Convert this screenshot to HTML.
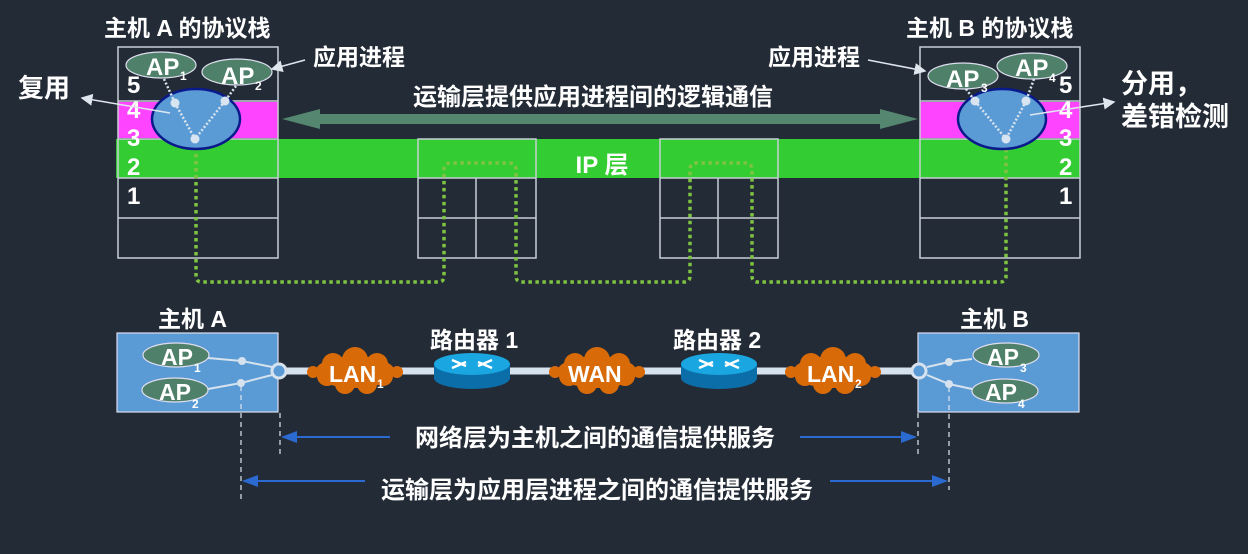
<!DOCTYPE html>
<html><head><meta charset="utf-8"><style>
html,body{margin:0;padding:0;background:#232b36;}
svg{display:block;}
text{font-family:"Liberation Sans","Noto Sans CJK SC",sans-serif;fill:#fff;font-weight:bold;}
</style></head><body>
<svg width="1248" height="554" viewBox="0 0 1248 554" xmlns="http://www.w3.org/2000/svg">
<defs>
<marker id="wa" markerWidth="8" markerHeight="8" refX="7" refY="4" orient="auto"><path d="M0,0 L8,4 L0,8 z" fill="#dfe6ee"/></marker>
<marker id="ba" markerWidth="8" markerHeight="8" refX="7" refY="4" orient="auto-start-reverse"><path d="M0,1 L8,4 L0,7 z" fill="#2b6ad0"/></marker>
</defs>
<rect x="116" y="139" width="964" height="39" fill="#33cc33"/>
<rect x="118" y="102" width="160" height="36" fill="#ff44ff"/>
<rect x="920" y="102" width="160" height="36" fill="#ff44ff"/>
<g fill="none" stroke="#c8ced6" stroke-width="1.5">
<rect x="118" y="47" width="160" height="211"/>
<line x1="118" y1="101" x2="278" y2="101"/><line x1="118" y1="139" x2="278" y2="139"/>
<line x1="118" y1="178" x2="278" y2="178"/><line x1="118" y1="218" x2="278" y2="218"/>
<rect x="920" y="47" width="160" height="211"/>
<line x1="920" y1="101" x2="1080" y2="101"/><line x1="920" y1="139" x2="1080" y2="139"/>
<line x1="920" y1="178" x2="1080" y2="178"/><line x1="920" y1="218" x2="1080" y2="218"/>
<rect x="418" y="139" width="118" height="119"/>
<line x1="418" y1="178" x2="536" y2="178"/><line x1="418" y1="218" x2="536" y2="218"/><line x1="476" y1="178" x2="476" y2="258"/>
<rect x="660" y="139" width="118" height="119"/>
<line x1="660" y1="178" x2="778" y2="178"/><line x1="660" y1="218" x2="778" y2="218"/><line x1="718" y1="178" x2="718" y2="258"/>
</g>
<path d="M282,119 L320,109 L320,114 L880,114 L880,109 L918,119 L880,129 L880,124 L320,124 L320,129 Z" fill="#548670"/>
<text x="593" y="105" font-size="24" text-anchor="middle">运输层提供应用进程间的逻辑通信</text>
<text x="602" y="173" font-size="24" text-anchor="middle">IP 层</text>
<path d="M196,140 L196,276 Q196,282 202,282 L438,282 Q444,282 444,276 L444,170 Q444,163 451,163 L509,163 Q516,163 516,170 L516,276 Q516,282 522,282 L684,282 Q690,282 690,276 L690,170 Q690,163 697,163 L745,163 Q752,163 752,170 L752,276 Q752,282 758,282 L1000,282 Q1006,282 1006,276 L1006,140" fill="none" stroke="#7fc342" stroke-width="3.5" stroke-dasharray="3.5,3.5"/>
<ellipse cx="196" cy="119" rx="44" ry="30" fill="#5b9bd5" stroke="#0a1a8a" stroke-width="2.5"/>
<ellipse cx="161" cy="65" rx="35" ry="13" fill="#4f8069" stroke="#dde" stroke-width="1.2"/>
<ellipse cx="237" cy="72" rx="35" ry="13" fill="#4f8069" stroke="#dde" stroke-width="1.2"/>
<text x="146" y="75" font-size="24">AP</text><text x="180" y="80" font-size="12">1</text>
<text x="221" y="84" font-size="24">AP</text><text x="255" y="90" font-size="12">2</text>
<g stroke="#d8e4f0" stroke-width="2.5" stroke-dasharray="2,2" fill="none">
<line x1="164" y1="79" x2="175" y2="103"/><line x1="175" y1="103" x2="195" y2="139"/>
<line x1="236" y1="86" x2="225" y2="101"/><line x1="225" y1="101" x2="195" y2="139"/>
</g>
<circle cx="175" cy="103" r="4.5" fill="#d8e4f0"/><circle cx="225" cy="101" r="4.5" fill="#d8e4f0"/><circle cx="195" cy="139" r="4.5" fill="#d8e4f0"/>
<g font-size="24" font-weight="normal">
<text x="127" y="93">5</text><text x="127" y="118">4</text><text x="127" y="146">3</text>
<text x="127" y="175">2</text><text x="127" y="204">1</text>
<text x="1059" y="93">5</text><text x="1059" y="118">4</text><text x="1059" y="146">3</text>
<text x="1059" y="175">2</text><text x="1059" y="204">1</text>
</g>
<text x="104" y="36" font-size="23">主机 A 的协议栈</text>
<text x="313" y="65" font-size="23">应用进程</text>
<line x1="305" y1="60" x2="272" y2="69" stroke="#dfe6ee" stroke-width="1.5" marker-end="url(#wa)"/>
<text x="18" y="97" font-size="26">复用</text>
<line x1="170" y1="113" x2="82" y2="98" stroke="#dfe6ee" stroke-width="1.5" marker-end="url(#wa)"/>
<ellipse cx="1002" cy="119" rx="44" ry="30" fill="#5b9bd5" stroke="#0a1a8a" stroke-width="2.5"/>
<ellipse cx="963" cy="76" rx="35" ry="13" fill="#4f8069" stroke="#dde" stroke-width="1.2"/>
<ellipse cx="1032" cy="66" rx="35" ry="13" fill="#4f8069" stroke="#dde" stroke-width="1.2"/>
<text x="946" y="87" font-size="24">AP</text><text x="981" y="92" font-size="12">3</text>
<text x="1015" y="76" font-size="24">AP</text><text x="1049" y="82" font-size="12">4</text>
<g stroke="#d8e4f0" stroke-width="2.5" stroke-dasharray="2,2" fill="none">
<line x1="966" y1="89" x2="975" y2="101"/><line x1="975" y1="101" x2="1006" y2="139"/>
<line x1="1034" y1="79" x2="1026" y2="101"/><line x1="1026" y1="101" x2="1006" y2="139"/>
</g>
<circle cx="975" cy="101" r="4.5" fill="#d8e4f0"/><circle cx="1026" cy="101" r="4.5" fill="#d8e4f0"/><circle cx="1006" cy="139" r="4.5" fill="#d8e4f0"/>
<text x="906" y="36" font-size="23">主机 B 的协议栈</text>
<text x="768" y="65" font-size="23">应用进程</text>
<line x1="868" y1="60" x2="925" y2="71" stroke="#dfe6ee" stroke-width="1.5" marker-end="url(#wa)"/>
<text x="1121" y="93" font-size="27">分用，</text>
<text x="1121" y="126" font-size="27">差错检测</text>
<line x1="1030" y1="115" x2="1114" y2="102" stroke="#dfe6ee" stroke-width="1.5" marker-end="url(#wa)"/>
<text x="158" y="327" font-size="23">主机 A</text>
<text x="960" y="327" font-size="23">主机 B</text>
<text x="430" y="348" font-size="23">路由器 1</text>
<text x="673" y="348" font-size="23">路由器 2</text>
<line x1="278" y1="371" x2="920" y2="371" stroke="#d6e2ee" stroke-width="7"/>
<rect x="117" y="333" width="161" height="79" fill="#5b9bd5" stroke="#dde" stroke-width="1.2"/>
<rect x="918" y="333" width="161" height="79" fill="#5b9bd5" stroke="#dde" stroke-width="1.2"/>
<g fill="none" stroke="#d6e2ee" stroke-width="2">
<path d="M208,358 L242,361 L272,367"/><path d="M208,389 L241,383 L272,375"/>
<path d="M927,367 L949,362 L972,359"/><path d="M927,375 L949,384 L972,389"/>
</g>
<circle cx="242" cy="361" r="4" fill="#d6e2ee"/><circle cx="241" cy="383" r="4" fill="#d6e2ee"/>
<circle cx="949" cy="362" r="4" fill="#d6e2ee"/><circle cx="949" cy="384" r="4" fill="#d6e2ee"/>
<circle cx="279" cy="371" r="7" fill="#5b9bd5" stroke="#d6e2ee" stroke-width="3"/>
<circle cx="919" cy="371" r="7" fill="#5b9bd5" stroke="#d6e2ee" stroke-width="3"/>
<ellipse cx="176" cy="355" rx="33" ry="12" fill="#4f8069" stroke="#dde" stroke-width="1.2"/>
<ellipse cx="175" cy="390" rx="33" ry="12" fill="#4f8069" stroke="#dde" stroke-width="1.2"/>
<ellipse cx="1006" cy="355" rx="33" ry="12" fill="#4f8069" stroke="#dde" stroke-width="1.2"/>
<ellipse cx="1005" cy="391" rx="33" ry="12" fill="#4f8069" stroke="#dde" stroke-width="1.2"/>
<text x="161" y="365" font-size="23">AP</text><text x="194" y="372" font-size="12">1</text>
<text x="159" y="400" font-size="23">AP</text><text x="192" y="408" font-size="12">2</text>
<text x="987" y="365" font-size="23">AP</text><text x="1020" y="372" font-size="12">3</text>
<text x="985" y="400" font-size="23">AP</text><text x="1018" y="408" font-size="12">4</text>
<g fill="#d96a08">
<g transform="translate(355,372)"><ellipse cx="0" cy="0" rx="40" ry="16"/><circle cx="-22" cy="-8" r="11"/><circle cx="0" cy="-12" r="13"/><circle cx="22" cy="-8" r="11"/><circle cx="-28" cy="4" r="10"/><circle cx="28" cy="4" r="10"/><circle cx="-10" cy="12" r="10"/><circle cx="12" cy="12" r="10"/><circle cx="-42" cy="0" r="6"/><circle cx="42" cy="0" r="6"/></g>
<g transform="translate(597,372)"><ellipse cx="0" cy="0" rx="40" ry="16"/><circle cx="-22" cy="-8" r="11"/><circle cx="0" cy="-12" r="13"/><circle cx="22" cy="-8" r="11"/><circle cx="-28" cy="4" r="10"/><circle cx="28" cy="4" r="10"/><circle cx="-10" cy="12" r="10"/><circle cx="12" cy="12" r="10"/><circle cx="-42" cy="0" r="6"/><circle cx="42" cy="0" r="6"/></g>
<g transform="translate(833,372)"><ellipse cx="0" cy="0" rx="40" ry="16"/><circle cx="-22" cy="-8" r="11"/><circle cx="0" cy="-12" r="13"/><circle cx="22" cy="-8" r="11"/><circle cx="-28" cy="4" r="10"/><circle cx="28" cy="4" r="10"/><circle cx="-10" cy="12" r="10"/><circle cx="12" cy="12" r="10"/><circle cx="-42" cy="0" r="6"/><circle cx="42" cy="0" r="6"/></g>
</g>
<text x="329" y="382" font-size="23">LAN</text><text x="377" y="388" font-size="12">1</text>
<text x="568" y="382" font-size="23">WAN</text>
<text x="807" y="382" font-size="23">LAN</text><text x="855" y="388" font-size="12">2</text>
<g>
<path d="M434,364 L434,378 A38,11 0 0 0 510,378 L510,364 Z" fill="#0b6ea8"/>
<ellipse cx="472" cy="364" rx="38" ry="11" fill="#1aa6e0"/>
<path d="M452,360 L466,366 M492,360 L478,366 M452,368 L466,362 M492,368 L478,362" stroke="#fff" stroke-width="2.5"/>
<path d="M681,364 L681,378 A38,11 0 0 0 757,378 L757,364 Z" fill="#0b6ea8"/>
<ellipse cx="719" cy="364" rx="38" ry="11" fill="#1aa6e0"/>
<path d="M699,360 L713,366 M739,360 L725,366 M699,368 L713,362 M739,368 L725,362" stroke="#fff" stroke-width="2.5"/>
</g>
<g stroke="#dfe6ee" stroke-width="1.2" stroke-dasharray="5,4">
<line x1="241" y1="386" x2="241" y2="500"/><line x1="280" y1="413" x2="280" y2="456"/>
<line x1="918" y1="413" x2="918" y2="456"/><line x1="949" y1="387" x2="949" y2="490"/>
</g>
<g stroke="#2b6ad0" stroke-width="2">
<line x1="283" y1="437" x2="390" y2="437" marker-start="url(#ba)"/>
<line x1="800" y1="437" x2="915" y2="437" marker-end="url(#ba)"/>
<line x1="244" y1="481" x2="365" y2="481" marker-start="url(#ba)"/>
<line x1="830" y1="481" x2="946" y2="481" marker-end="url(#ba)"/>
</g>
<text x="595" y="446" font-size="24" text-anchor="middle">网络层为主机之间的通信提供服务</text>
<text x="597" y="498" font-size="24" text-anchor="middle">运输层为应用层进程之间的通信提供服务</text>
</svg>
</body></html>
